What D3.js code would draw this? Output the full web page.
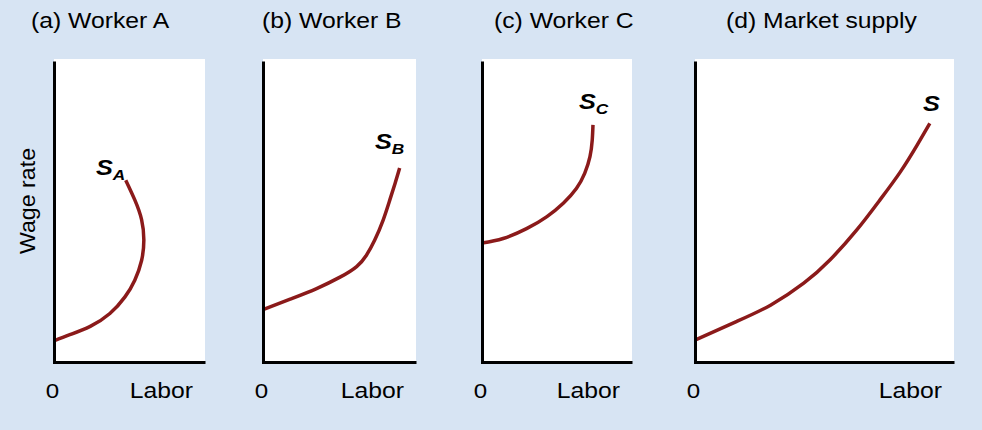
<!DOCTYPE html>
<html>
<head>
  <title>Labor supply</title>
  <script src="https://d3js.org/d3.v7.min.js"></script>
  <style>
    body { margin: 0; background: #d7e4f3; }
    text { font-family: "Liberation Sans", Arial, Helvetica, sans-serif; fill: #000; }
  </style>
</head>
<body>
</body>
</html>
<script>
// panel titles and curve labels
var panelTitles = ["(a) Worker A", "(b) Worker B", "(c) Worker C", "(d) Market supply"];
var curveSubs = ["A", "B", "C", ""];

// supply curves (labor, wage), bottom to top
var laborA = [0, 1.05, 2.4, 3.7, 4.7, 5.35, 5.8, 5.95, 5.8, 5.35, 4.75];
var wageA  = [1.4, 1.8, 2.35, 3.2, 4.3, 5.4, 6.7, 8.05, 9.4, 10.7, 12.0];

var laborB = [0, 1.8, 3.55, 5.1, 6.2, 6.85, 7.4, 7.95, 8.4, 8.75, 9.05];
var wageB  = [3.45, 4.15, 4.85, 5.6, 6.3, 7.05, 8.05, 9.35, 10.7, 11.8, 12.8];

var laborC = [0, 1.4, 2.95, 4.3, 5.4, 6.25, 6.8, 7.15, 7.3, 7.35];
var wageC  = [7.85, 8.15, 8.8, 9.6, 10.5, 11.45, 12.45, 13.55, 14.65, 15.65];

var laborS = [0, 2.7, 5.0, 7.2, 8.95, 10.7, 12.25, 13.6, 14.7, 15.55];
var wageS  = [1.45, 2.65, 3.75, 5.2, 6.75, 8.7, 10.7, 12.55, 14.3, 15.75];

var curves = [[laborA, wageA], [laborB, wageB], [laborC, wageC], [laborS, wageS]];

// layout
var width = 982, height = 430;
var lefts = [54, 263, 482, 695];
var widths = [151, 153, 150, 259];
var titleX = [31, 262, 494, 726];
var labelPos = [[96, 175], [375, 149], [579, 109], [923, 111]];
var panelTop = 59, panelBottom = 362;
var pxPerUnit = 15.1;
var stretch = 1.15;
var red = "#8b1a1a";

var svg = d3.select("body").append("svg")
  .attr("width", width).attr("height", height);

svg.append("rect").attr("width", width).attr("height", height).attr("fill", "#d7e4f3");

var y = d3.scaleLinear().domain([0, 20]).range([panelBottom, panelTop]);

function stretchedText(g, str, x, yy, size) {
  return g.append("text")
    .attr("transform", "translate(" + x + "," + yy + ") scale(" + stretch + ",1)")
    .style("font-size", size + "px")
    .text(str);
}

panelTitles.forEach(function(title, i) {
  var left = lefts[i], w = widths[i];
  var x = d3.scaleLinear().domain([0, w / pxPerUnit]).range([left, left + w]);
  var g = svg.append("g");

  g.append("rect")
    .attr("x", left).attr("y", panelTop)
    .attr("width", w).attr("height", panelBottom - panelTop)
    .attr("fill", "#fff");

  // curve
  var pts = d3.zip(curves[i][0], curves[i][1]);
  g.append("path")
    .datum(pts)
    .attr("fill", "none")
    .attr("stroke", red)
    .attr("stroke-width", 3.5)
    .attr("d", d3.line()
      .x(function(d) { return x(d[0]); })
      .y(function(d) { return y(d[1]); })
      .curve(d3.curveNatural));

  // axes with no ticks
  g.append("g")
    .attr("transform", "translate(0," + panelBottom + ")")
    .call(d3.axisBottom(x).tickValues([]).tickSizeOuter(0))
    .call(function(a) { a.select(".domain").attr("stroke-width", 3).attr("stroke", "#000"); });
  g.append("g")
    .attr("transform", "translate(" + left + ",0)")
    .call(d3.axisLeft(d3.scaleLinear().range([panelTop + 2, panelBottom + 1.5])).tickValues([]).tickSizeOuter(0))
    .call(function(a) { a.select(".domain").attr("stroke-width", 3).attr("stroke", "#000"); });

  // title
  stretchedText(g, title, titleX[i], 28, 21.5);

  // 0 and Labor
  stretchedText(g, "0", left - 1.5, 398, 21).attr("text-anchor", "middle");
  stretchedText(g, "Labor", left + w - 12, 398, 21.5).attr("text-anchor", "end");

  // curve label
  var lab = g.append("text")
    .attr("transform", "translate(" + labelPos[i][0] + "," + labelPos[i][1] + ") scale(" + stretch + ",1)")
    .style("font-size", "22px")
    .style("font-weight", "bold")
    .style("font-style", "italic");
  lab.append("tspan").text("S");
  if (curveSubs[i]) {
    lab.append("tspan").attr("dy", 5).style("font-size", "15px").text(curveSubs[i]);
  }
});

// y axis title
svg.append("text")
  .attr("transform", "translate(35,201) rotate(-90) scale(1.08,1)")
  .attr("text-anchor", "middle")
  .style("font-size", "21.5px")
  .text("Wage rate");
</script>
